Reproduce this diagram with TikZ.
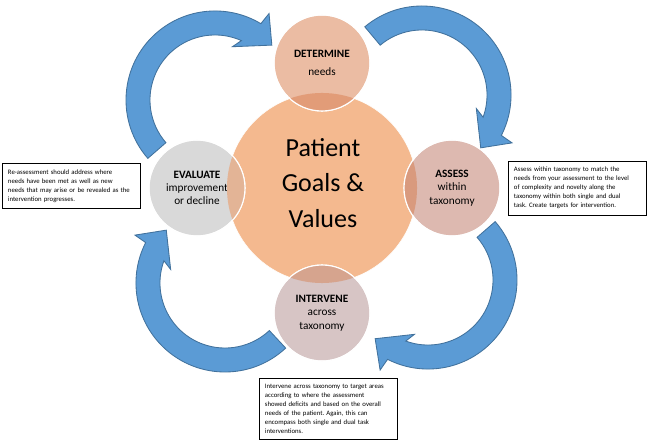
\documentclass[tikz,border=0pt]{standalone}
\usepackage{fontspec}
\setmainfont{Carlito}
\usetikzlibrary{calc}
\frenchspacing

\definecolor{goalorange}{HTML}{F4B98F}
\definecolor{detfill}{HTML}{EBBCA3}
\definecolor{detover}{HTML}{E29C78}
\definecolor{evalfill}{HTML}{D9D9D9}
\definecolor{evalover}{HTML}{E3B496}
\definecolor{assfill}{HTML}{DDB9B0}
\definecolor{assover}{HTML}{D99A7E}
\definecolor{intfill}{HTML}{D7C5C5}
\definecolor{intover}{HTML}{D6A48E}
\definecolor{arrowblue}{HTML}{5B9BD5}
\definecolor{arrowedge}{HTML}{41719C}

\tikzset{
  stepcircle/.style={circle, minimum size=2.4cm, draw=white, line width=0.8pt,
    align=center, font=\fontsize{8}{9.5}\selectfont, inner sep=0pt},
  notebox/.style={rectangle, draw=black, line width=0.6pt, align=left,
    text width=3.15cm, inner xsep=0.15cm, inner ysep=0.15cm,
    font=\fontsize{4.8}{6.4}\selectfont},
  bluearrow/.style={fill=arrowblue, draw=arrowedge, line width=0.6pt, line join=miter}
}

% curved block arrow: centre, tail angle, tip angle (clockwise)
\newcommand{\cyclearrow}[3]{%
  \draw[bluearrow] ($(#1)+(#2:89)$) arc[start angle=#2, end angle={#3+15}, radius=2.225cm]
    -- ($(#1)+({#3+14}:102)$) -- ($(#1)+(#3:79)$) -- ($(#1)+({#3+28}:56)$)
    -- ($(#1)+({#3+22}:65)$) arc[start angle={#3+22}, end angle=#2, radius=1.625cm] -- cycle;}

\begin{document}
\begin{tikzpicture}[x=0.025cm, y=0.025cm, node distance=3.125cm]
  \useasboundingbox (0,0) rectangle (650,-445);

  \node(goals)[circle, fill=goalorange, draw=white, minimum size=4.75cm] at (322,-188) {};
  \node(goals-text)[align=center, font=\fontsize{18.5}{25}\selectfont] at (323,-183) {Patient\\Goals \&\\Values};

  \node(determine)[stepcircle, fill=detfill, above of=goals] {\textbf{DETERMINE}\\[3pt]needs};
  \node(evaluate)[stepcircle, fill=evalfill, left of=goals] {\textbf{EVALUATE}\\improvement\\or decline};
  \node(assess)[stepcircle, fill=assfill, right of=goals, xshift=0.125cm] {\textbf{ASSESS}\\within\\taxonomy};
  \node(intervene)[stepcircle, fill=intfill, below of=goals] {\textbf{INTERVENE}\\across\\taxonomy};

  % darker parts where the circles overlap
  \begin{scope}
    \clip (goals.center) circle (2.375cm);
    \fill[detover] (determine.center) circle (1.2cm);
    \fill[evalover] (evaluate.center) circle (1.2cm);
    \fill[assover] (assess.center) circle (1.2cm);
    \fill[intover] (intervene.center) circle (1.2cm);
  \end{scope}
  \foreach \n in {determine, evaluate, assess, intervene}
    \draw[white, line width=0.8pt] (\n.center) circle (1.2cm);

  \coordinate(turn-1) at (215,-100);
  \coordinate(turn-2) at (422,-95);
  \coordinate(turn-3) at (428,-280);
  \coordinate(turn-4) at (225,-283);

  \cyclearrow{turn-1}{221}{44}
  \cyclearrow{turn-2}{130}{-42}
  \cyclearrow{turn-3}{41}{-132}
  \cyclearrow{turn-4}{313}{138}

  \node(evaluate-note)[notebox] at (71,-186) {Re-assessment should address where\\needs have been met as well as new\\needs that may arise or be revealed as the\\intervention progresses.};
  \node(assess-note)[notebox] at (577,-188) {Assess within taxonomy to match the\\needs from your assessment to the level\\of complexity and novelty along the\\taxonomy within both single and dual\\task. Create targets for intervention.};
  \node(intervene-note)[notebox] at (328,-409) {Intervene across taxonomy to target areas\\according to where the assessment\\showed deficits and based on the overall\\needs of the patient. Again, this can\\encompass both single and dual task\\interventions.};
\end{tikzpicture}
\end{document}
